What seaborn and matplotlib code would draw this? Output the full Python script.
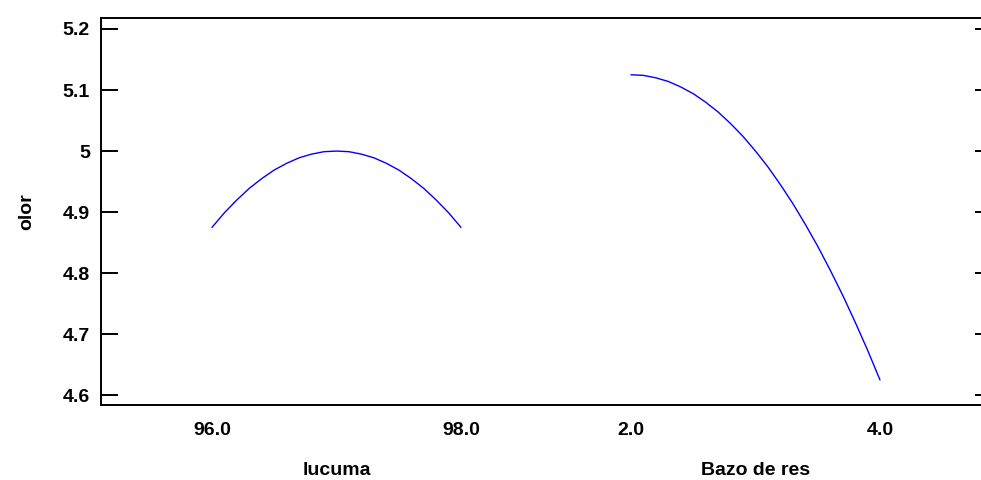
import matplotlib
matplotlib.use("Agg")
import matplotlib.pyplot as plt
import seaborn as sns
import pandas as pd

# Factor levels and the fitted response (olor) along each factor
lucuma_levels = [96.0, 96.1, 96.2, 96.3, 96.4, 96.5, 96.6, 96.7, 96.8, 96.9, 97.0,
                 97.1, 97.2, 97.3, 97.4, 97.5, 97.6, 97.7, 97.8, 97.9, 98.0]
lucuma_olor = [4.875, 4.899, 4.920, 4.939, 4.955, 4.969, 4.980, 4.989, 4.995, 4.999, 5.000,
               4.999, 4.995, 4.989, 4.980, 4.969, 4.955, 4.939, 4.920, 4.899, 4.875]

bazo_levels = [2.0, 2.1, 2.2, 2.3, 2.4, 2.5, 2.6, 2.7, 2.8, 2.9, 3.0,
               3.1, 3.2, 3.3, 3.4, 3.5, 3.6, 3.7, 3.8, 3.9, 4.0]
bazo_olor = [5.125, 5.124, 5.120, 5.114, 5.105, 5.094, 5.080, 5.064, 5.045, 5.024, 5.000,
             4.974, 4.945, 4.914, 4.880, 4.844, 4.805, 4.764, 4.720, 4.674, 4.625]

factor_names = ["lucuma", "Bazo de res"]
factor_ticks = [["96.0", "98.0"], ["2.0", "4.0"]]
y_ticks = [4.6, 4.7, 4.8, 4.9, 5.0, 5.1, 5.2]
y_ticklabels = ["4.6", "4.7", "4.8", "4.9", "5", "5.1", "5.2"]

# Each factor occupies a unit-wide panel on a shared horizontal axis
panel_starts = [0.0, 1.676]
panel_width = 0.996


def to_panel(levels, start):
    lo, hi = min(levels), max(levels)
    return [start + (v - lo) / (hi - lo) * panel_width for v in levels]


frames = []
for name, levels, olor, start in [
    (factor_names[0], lucuma_levels, lucuma_olor, panel_starts[0]),
    (factor_names[1], bazo_levels, bazo_olor, panel_starts[1]),
]:
    frames.append(pd.DataFrame({"pos": to_panel(levels, start), "olor": olor, "factor": name}))
df = pd.concat(frames, ignore_index=True)

sns.set_style("white")
plt.rcParams["font.family"] = ["Liberation Sans", "DejaVu Sans"]
plt.rcParams["font.weight"] = "bold"
for key in ["text.color", "axes.labelcolor", "xtick.color", "ytick.color", "axes.edgecolor"]:
    plt.rcParams[key] = "black"

FS = 14

fig = plt.figure(figsize=(9.81, 4.80), dpi=100)
ax = fig.add_axes([101 / 981, 1 - 405 / 480, (992 - 101) / 981, (405 - 18) / 480])

sns.lineplot(data=df, x="pos", y="olor", hue="factor", units="factor", estimator=None,
             palette={factor_names[0]: "#0000ff", factor_names[1]: "#0000ff"},
             linewidth=1.0, legend=False, ax=ax, sort=False)

ax.set_xlim(-0.444, 3.12)
ax.set_ylim(4.584, 5.218)

xt = [panel_starts[0], panel_starts[0] + panel_width, panel_starts[1], panel_starts[1] + panel_width]
ax.set_xticks(xt)
ax.set_xticklabels(factor_ticks[0] + factor_ticks[1], fontsize=FS, fontweight="bold")
ax.set_yticks(y_ticks)
ax.set_yticklabels(y_ticklabels, fontsize=FS, fontweight="bold")

ax.tick_params(axis="x", length=0, pad=12)
ax.tick_params(axis="y", direction="in", length=12, width=1.4, pad=8,
               left=True, right=True, color="black")

for s in ax.spines.values():
    s.set_visible(True)
    s.set_color("black")
    s.set_linewidth(1.4)
# the right-hand frame edge lies just past the figure border
ax.spines["right"].set_visible(False)

ax.set_xlabel("")
ax.set_ylabel("olor", fontsize=FS, fontweight="bold", labelpad=20)

# factor names centred under their panels
for name, start in zip(factor_names, panel_starts):
    ax.text(start + panel_width / 2, -0.17, name, transform=ax.get_xaxis_transform(),
            ha="center", va="center", fontsize=FS, fontweight="bold")

fig.savefig("out.png", dpi=100)
